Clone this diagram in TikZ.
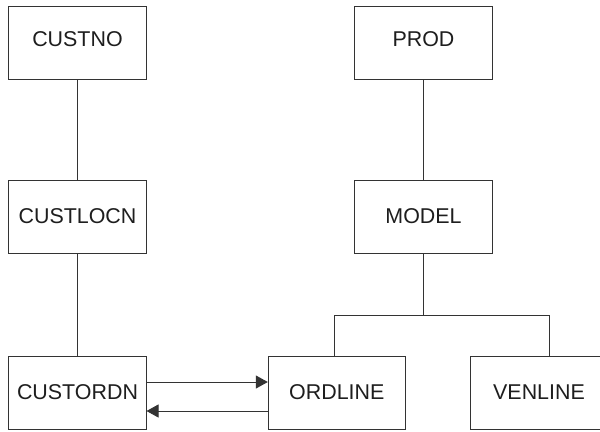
\documentclass[tikz,border=0pt]{standalone}
\usepackage{fontspec}
\setmainfont{Liberation Sans}
\usetikzlibrary{arrows.meta}
\definecolor{linecol}{HTML}{333333}
\definecolor{textcol}{HTML}{1E1E1E}
\begin{document}
\begin{tikzpicture}[x=1bp,y=-1bp,
  entity/.style={draw=linecol,line width=1bp,fill=white,minimum width=137bp,minimum height=73bp,
    inner sep=0pt,text=textcol,font=\fontsize{21.5}{25}\selectfont},
  toprow/.style={text height=15.4bp,text depth=7bp},
  link/.style={draw=linecol,line width=1bp},
  flow/.style={link,-{Triangle[length=12bp,width=13bp]}}]
\useasboundingbox (0,0) rectangle (600,431);
\clip (0,0) rectangle (600,431);
\node[entity,toprow] (custno)   at (77.5,42.5)  {CUSTNO};
\node[entity] (custlocn) at (77.5,216.5) {CUSTLOCN};
\node[entity] (custordn) at (77.5,392.5) {CUSTORDN};
\node[entity,toprow,minimum width=138bp] (prod)  at (423.5,42.5)  {PROD};
\node[entity,minimum width=138bp] (model) at (423.5,216.5) {MODEL};
\node[entity] (ordline)  at (336.8,392.5) {ORDLINE};
\node[entity,minimum width=138bp] (venline) at (539,392.5) {VENLINE};
\coordinate (jl) at (334.5,315);
\coordinate (jr) at (549.5,315);
\draw[link] (custno) -- (custlocn);
\draw[link] (custlocn) -- (custordn);
\draw[link] (prod) -- (model);
\draw[link] (model.south) -- (model.south |- jl);
\draw[link] (ordline.north -| jl) -- (jl) -- (jr) -- (venline.north -| jr);
\draw[flow] ([yshift=10.5bp]custordn.east) -- ([yshift=10.5bp]ordline.west);
\draw[flow] ([yshift=-18.5bp]ordline.west) -- ([yshift=-18.5bp]custordn.east);
\end{tikzpicture}
\end{document}
